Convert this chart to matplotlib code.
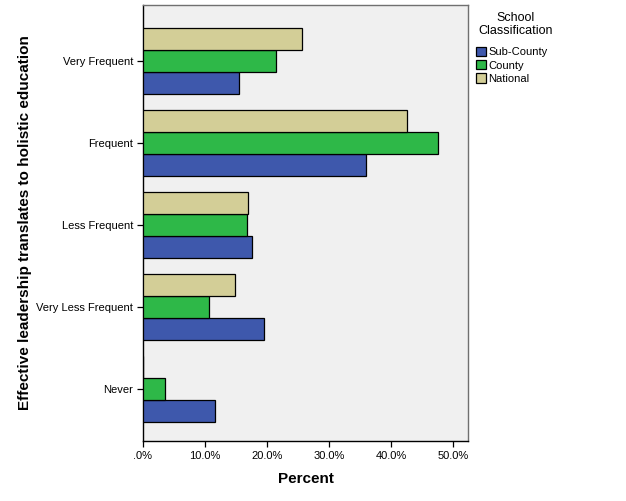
import matplotlib
matplotlib.use("Agg")
import matplotlib.pyplot as plt
import numpy as np
from matplotlib.patches import Patch

categories = ["Very Frequent", "Frequent", "Less Frequent", "Very Less Frequent", "Never"]
series_names = ["Sub-County", "County", "National"]
sub_county = [15.5, 36.0, 17.5, 19.5, 11.6]
county = [21.4, 47.6, 16.7, 10.7, 3.6]
national = [25.6, 42.6, 17.0, 14.9, 0.0]
colors = ["#3e58ac", "#2eb848", "#d3ce97"]
xticks = [0, 10, 20, 30, 40, 50]
xtick_labels = [".0%", "10.0%", "20.0%", "30.0%", "40.0%", "50.0%"]

fig = plt.figure(figsize=(6.26, 5.01), dpi=100)
W, H = 626, 501
ax = fig.add_axes([143/W, 1-441/H, (468-143)/W, (441-5)/H])
ax.set_facecolor("#f0f0f0")

y = np.arange(len(categories))
bh = 0.272
offsets = [bh, 0, -bh]
for vals, off, c, name in zip([sub_county, county, national], offsets, colors, series_names):
    ax.barh(y + off, vals, height=bh, color=c, edgecolor="black", linewidth=0.9, label=name, zorder=3)

ax.set_ylim(4.634, -0.683)
ax.set_xlim(0, 52.4)
ax.set_yticks(y)
ax.set_yticklabels(categories, fontsize=8, family="Liberation Sans")
ax.set_xticks(xticks)
ax.set_xticklabels(xtick_labels, fontsize=8, family="Liberation Sans")
ax.tick_params(axis="both", direction="out", length=4, width=0.9, color="black", pad=3)
for s in ["left", "bottom"]:
    ax.spines[s].set_color("black")
    ax.spines[s].set_linewidth(1.0)
for s in ["top", "right"]:
    ax.spines[s].set_color("#707070")
    ax.spines[s].set_linewidth(1.0)

ax.set_xlabel("Percent", fontsize=11, fontweight="bold", family="Liberation Sans", labelpad=8)
ax.set_ylabel("Effective leadership translates to holistic education", fontsize=11,
              fontweight="bold", family="Liberation Sans", labelpad=3.5)

fig.text(516/W, 1-18/H, "School", ha="center", va="center", fontsize=9, family="Liberation Sans")
fig.text(516/W, 1-31/H, "Classification", ha="center", va="center", fontsize=9, family="Liberation Sans")

handles = [Patch(facecolor=c, edgecolor="black", linewidth=0.9) for c in colors]
leg = fig.legend(handles, series_names,
                 loc="upper left", bbox_to_anchor=(476/W, 1-47/H), frameon=False,
                 prop={"family": "Liberation Sans", "size": 8},
                 handlelength=0.9, handleheight=0.9, handletextpad=0.2,
                 labelspacing=0.25, borderaxespad=0, borderpad=0)

fig.savefig("out.png", dpi=100, facecolor="white")
